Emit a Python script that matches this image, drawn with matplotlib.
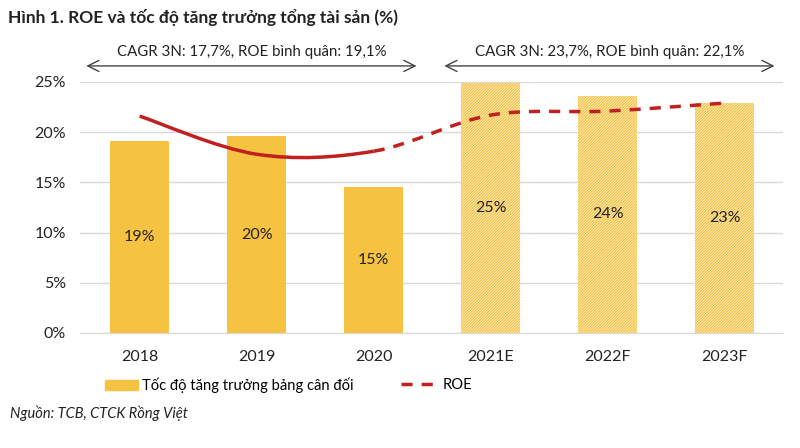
import matplotlib
matplotlib.use("Agg")
import matplotlib.pyplot as plt
from matplotlib.path import Path
from matplotlib.patches import PathPatch, Patch, FancyArrowPatch
from matplotlib.lines import Line2D

years = ["2018", "2019", "2020", "2021E", "2022F", "2023F"]
growth = [19.1, 19.6, 14.5, 24.9, 23.6, 22.9]
growth_labels = ["19%", "20%", "15%", "25%", "24%", "23%"]
roe = [21.6, 17.8, 18.1, 21.7, 22.1, 22.9]
n_actual = 3

note_left = "CAGR 3N: 17,7%, ROE bình quân: 19,1%"
note_right = "CAGR 3N: 23,7%, ROE bình quân: 22,1%"

YELLOW = "#F5C242"
RED = "#C0201E"
GRID = "#D9D9D9"
TEXT = "#222222"

plt.rcParams["font.family"] = ["Lato", "DejaVu Sans"]
plt.rcParams["hatch.linewidth"] = 1.0


def smooth_path(xs, ys):
    # Catmull-Rom style bezier through the points
    verts = [(xs[0], ys[0])]
    codes = [Path.MOVETO]
    pts = list(zip(xs, ys))
    for i in range(len(pts) - 1):
        p0 = pts[i - 1] if i > 0 else pts[i]
        p1 = pts[i]
        p2 = pts[i + 1]
        p3 = pts[i + 2] if i + 2 < len(pts) else pts[i + 1]
        c1 = (p1[0] + (p2[0] - p0[0]) / 6, p1[1] + (p2[1] - p0[1]) / 6)
        c2 = (p2[0] - (p3[0] - p1[0]) / 6, p2[1] - (p3[1] - p1[1]) / 6)
        verts += [c1, c2, p2]
        codes += [Path.CURVE4] * 3
    return Path(verts, codes)


def split_paths(xs, ys, k):
    full = smooth_path(xs, ys)
    v = full.vertices
    c = full.codes
    cut = 1 + 3 * (k - 1)
    solid = Path(v[:cut], c[:cut])
    dashed = Path(v[cut - 1:], [Path.MOVETO] + list(c[cut:]))
    return solid, dashed


fig = plt.figure(figsize=(8, 4.48), dpi=100)
ax = fig.add_axes([0.1, 0.257, 0.879, 0.56])

x = list(range(len(years)))
for i, (xi, v) in enumerate(zip(x, growth)):
    if i < n_actual:
        ax.bar(xi, v, width=0.5, color=YELLOW, zorder=2)
    else:
        ax.bar(xi, v, width=0.5, facecolor="white", edgecolor=YELLOW,
               hatch="/" * 12, linewidth=0, zorder=2)
    ax.text(xi, v / 2, growth_labels[i], ha="center", va="center",
            fontsize=11.5, color=TEXT, zorder=4)

solid, dashed = split_paths(x, roe, n_actual)
ax.add_patch(PathPatch(solid, facecolor="none", edgecolor=RED, lw=2.5, zorder=3))
ax.add_patch(PathPatch(dashed, facecolor="none", edgecolor=RED, lw=2.5,
                       linestyle=(0, (3.2, 2.6)), zorder=3))

ax.set_xlim(-0.51, 5.5)
ax.set_ylim(0, 25)
ax.set_yticks([0, 5, 10, 15, 20, 25])
ax.set_yticklabels([f"{t}%" for t in [0, 5, 10, 15, 20, 25]])
ax.set_xticks(x)
ax.set_xticklabels(years)
ax.tick_params(length=0, labelsize=11.5, colors=TEXT)
ax.tick_params(axis="x", pad=12)
ax.tick_params(axis="y", pad=10)
ax.grid(axis="y", color=GRID, lw=1, zorder=0)
for s in ["top", "right", "left"]:
    ax.spines[s].set_visible(False)
ax.spines["bottom"].set_color(GRID)
ax.set_axisbelow(True)

# period arrows
for (x0, x1, label) in [(-0.48, 2.39, note_left), (2.58, 5.45, note_right)]:
    arr = FancyArrowPatch((x0, 26.6), (x1, 26.6), arrowstyle="<->,head_length=8,head_width=4",
                          color="#444444", lw=1, clip_on=False, transform=ax.transData)
    ax.add_patch(arr)
    ax.text((x0 + x1) / 2, 27.3, label, ha="center", va="bottom", fontsize=10.8,
            color=TEXT, clip_on=False)

fig.text(0.01, 0.962, "Hình 1. ROE và tốc độ tăng trưởng tổng tài sản (%)",
         fontsize=12.5, fontweight="bold", color=TEXT, va="center")

fig.legend([Patch(color=YELLOW)], ["Tốc độ tăng trưởng bảng cân đối"],
           loc="center left", bbox_to_anchor=(0.115, 0.14), frameon=False,
           fontsize=10.6, handlelength=2.2, handletextpad=0.3, handleheight=0.6)
fig.legend([Line2D([0], [0], color=RED, lw=2.5, linestyle=(0, (3.2, 2.6)))], ["ROE"],
           loc="center left", bbox_to_anchor=(0.485, 0.14), frameon=False,
           fontsize=10.6, handlelength=2.5, handletextpad=0.3)

fig.text(0.012, 0.078, "Nguồn: TCB, CTCK Rồng Việt", fontsize=10.5, style="italic",
         color=TEXT, va="center")

fig.savefig("out.png", dpi=100)
